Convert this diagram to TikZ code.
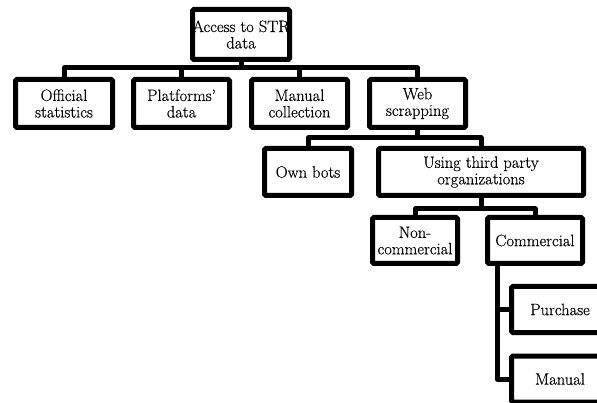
\documentclass[tikz,border=0pt]{standalone}
\usepackage{fontspec}
\setmainfont{Latin Modern Roman}[FakeBold=0.4]
\begin{document}
\begin{tikzpicture}[x=1pt,y=-1pt,
  box/.style={draw=black,line width=5pt,rounded corners=1.5pt,align=center,
    inner sep=0pt,font=\fontsize{16.5}{16.5}\selectfont,minimum height=48pt},
  conn/.style={draw=black,line width=5pt,line join=round}]
\useasboundingbox (0,0) rectangle (597,403);
\clip (0,0) rectangle (597,403);
\node[box,minimum width=97pt,minimum height=50pt] (root) at (241,34.5) {Access to STR\\data};
\node[box,minimum width=97pt] (off) at (64,103.5) {Official\\statistics};
\node[box,minimum width=96pt] (plat) at (181.5,103.5) {Platforms'\\data};
\node[box,minimum width=96pt] (man) at (299.5,103.5) {Manual\\collection};
\node[box,minimum width=96pt] (web) at (417.5,103.5) {Web\\scrapping};
\node[box,minimum width=87pt,minimum height=47pt] (own) at (308,172) {Own bots};
\node[box,minimum width=205pt,minimum height=47pt] (using) at (481,172) {Using third party\\organizations};
\node[box,minimum width=85pt,minimum height=46pt] (non) at (415,240.5) {Non-\\commercial};
\node[box,minimum width=95pt,minimum height=46pt] (com) at (535,240.5) {Commercial};
\node[box,minimum width=97pt,minimum height=46pt] (pur) at (560,309.5) {Purchase};
\node[box,minimum width=97pt,minimum height=46pt] (mnl) at (560,379) {Manual};
% level 1
\coordinate (j1) at (241,68);
\draw[conn] (root.south) -- (j1);
\draw[conn] (off.north) |- (j1) -| (web.north);
\draw[conn] (plat.north) -- (plat.north |- j1);
\draw[conn] (man.north) -- (man.north |- j1);
% level 2
\coordinate (j2) at (417.5,138);
\draw[conn] (web.south) -- (j2);
\draw[conn] (own.north) |- (j2) -| (using.north);
% level 3
\coordinate (j3) at (481,209);
\draw[conn] (using.south) -- (j3);
\draw[conn] (non.north) |- (j3) -| (com.north);
% level 4
\coordinate (cv) at (497,263);
\draw[conn] (cv) |- (mnl.west);
\draw[conn] (cv |- pur.west) -- (pur.west);
\end{tikzpicture}
\end{document}
